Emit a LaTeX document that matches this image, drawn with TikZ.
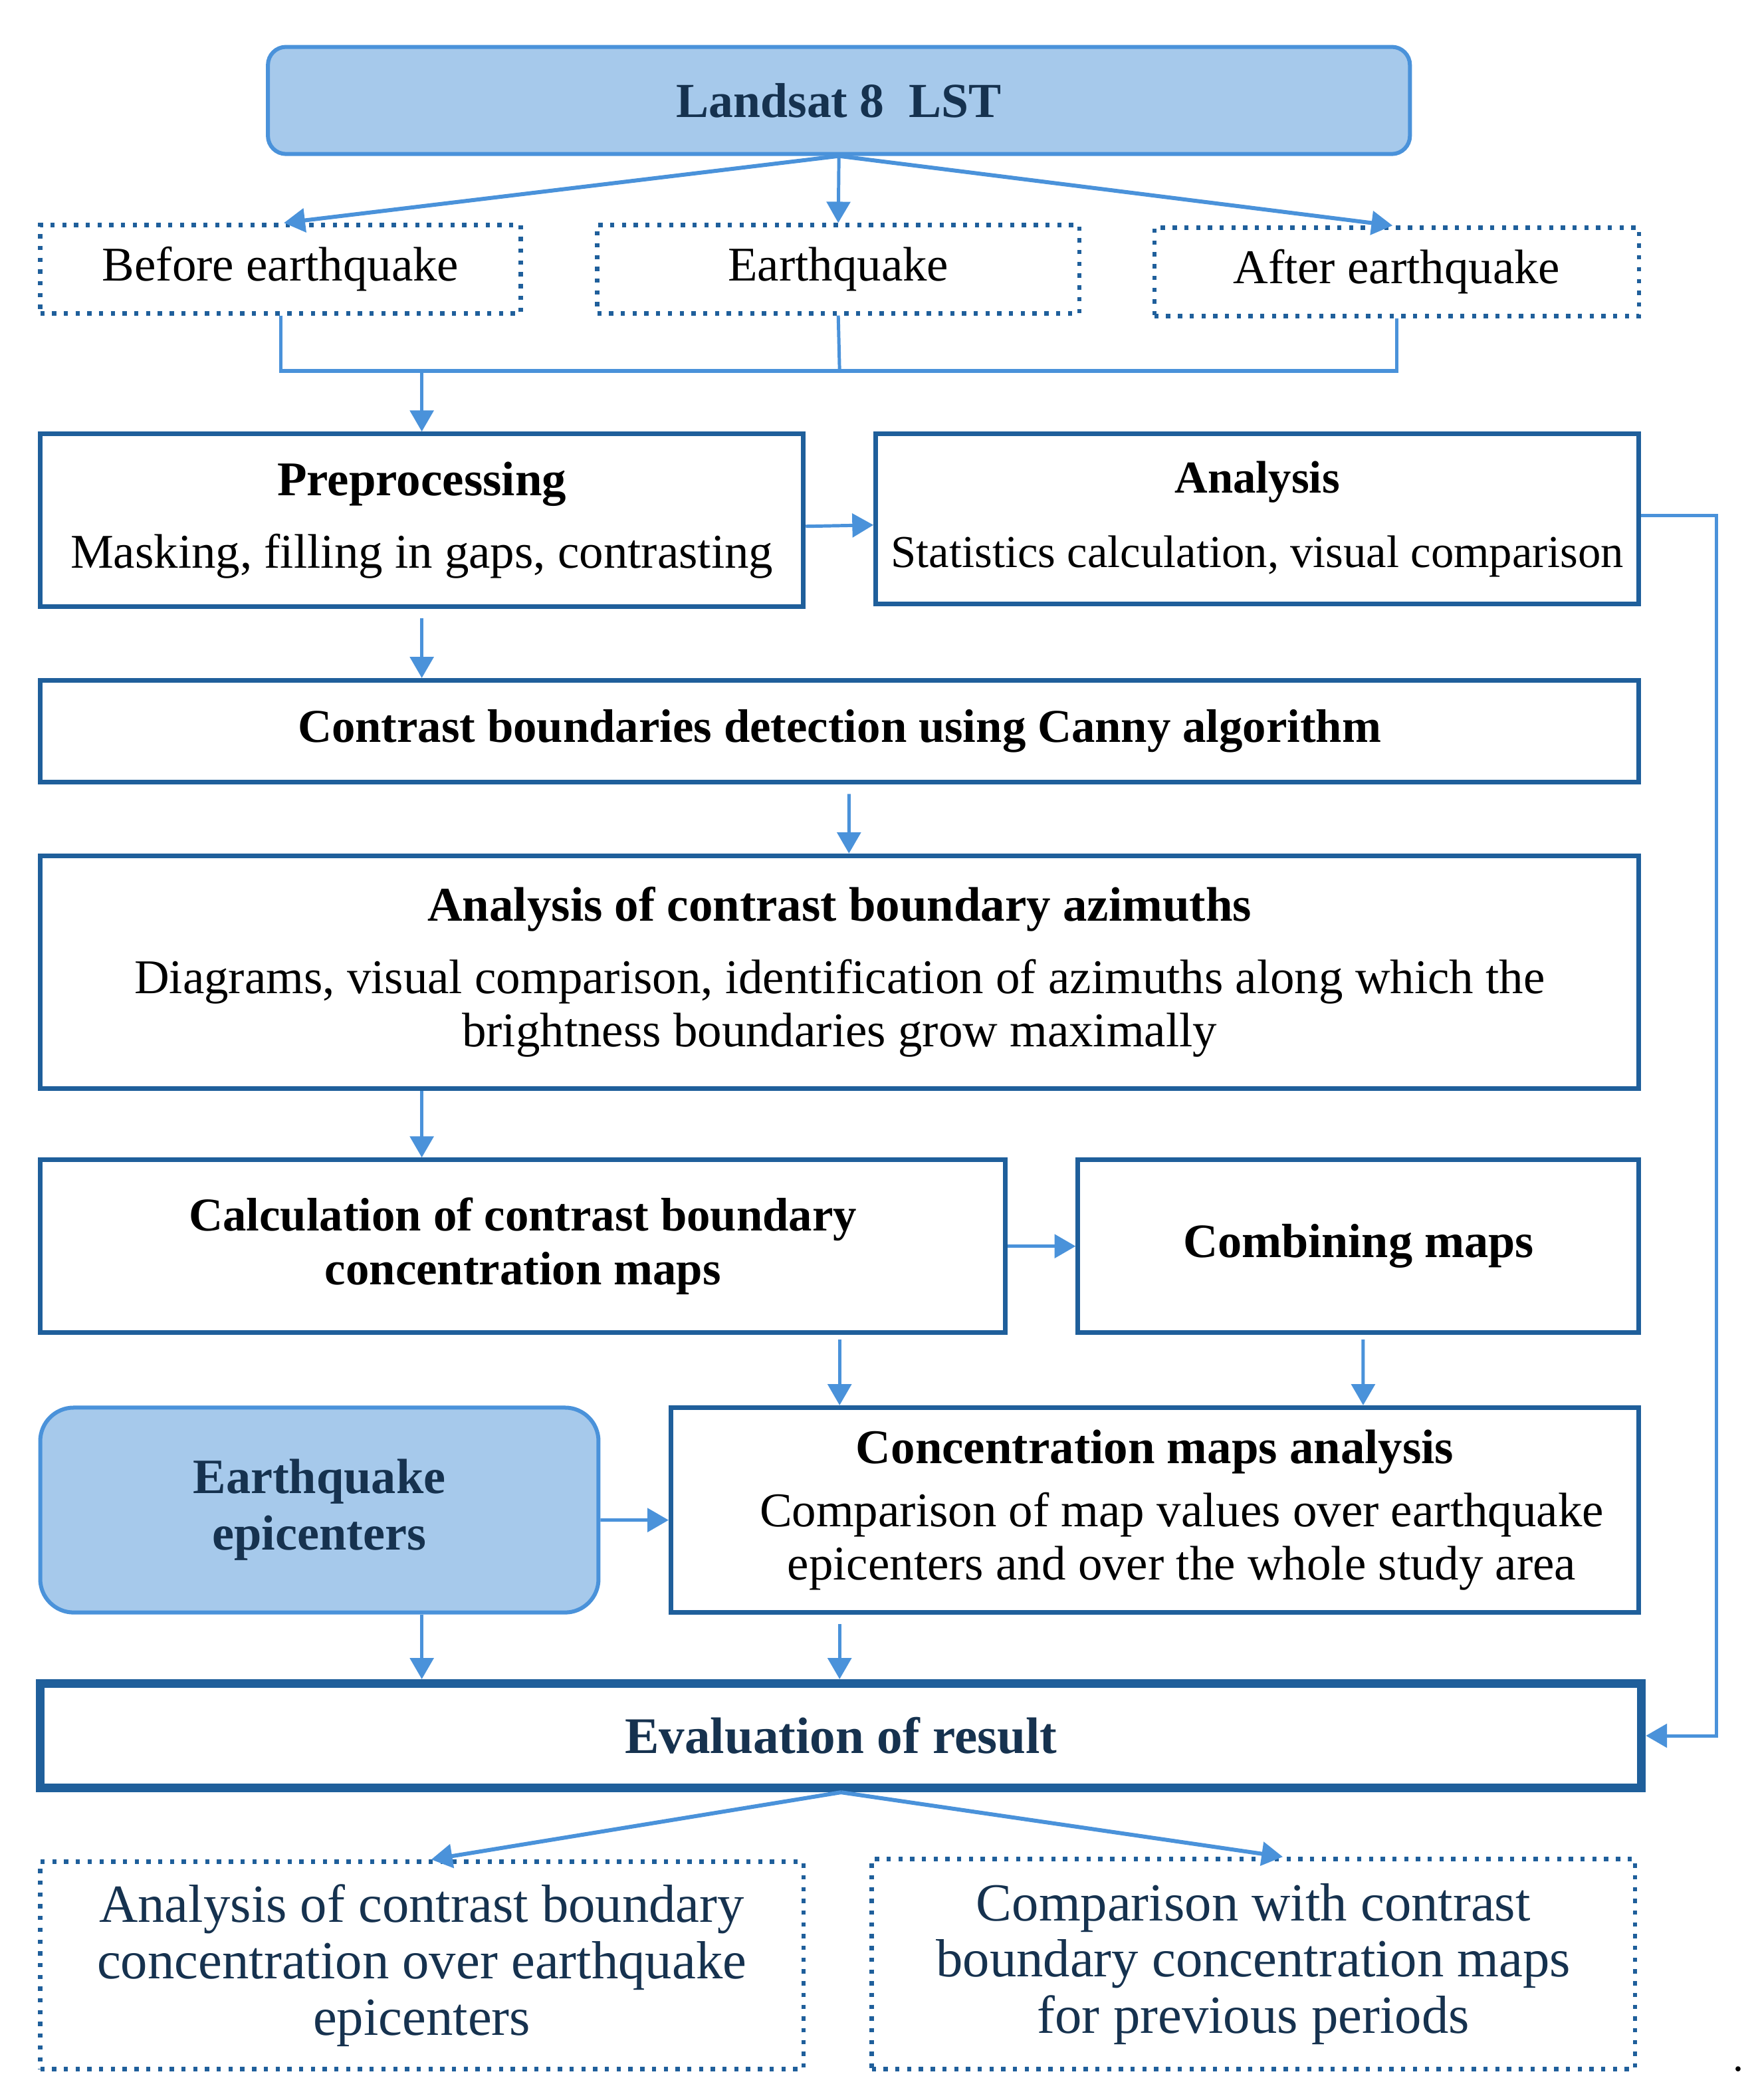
\documentclass[tikz,border=0pt]{standalone}
\usepackage{fontspec}
\setmainfont{Liberation Serif}
\usetikzlibrary{arrows.meta}
\definecolor{boxblue}{RGB}{31,95,155}
\definecolor{arrblue}{RGB}{74,146,218}
\definecolor{fillblue}{RGB}{166,201,235}
\definecolor{navy}{RGB}{22,50,79}
\tikzset{
  box/.style={draw=boxblue, line width=2pt, align=center, inner sep=0pt, font=\fontsize{20.6}{22.7}\selectfont},
  dotbox/.style={box, line width=1.8pt, dash pattern=on 1.8pt off 3.2pt},
  srcbox/.style={box, draw=arrblue, fill=fillblue, line width=1.7pt, text=navy, font=\fontsize{21}{24}\selectfont\bfseries},
  arr/.style={-{Triangle[length=9pt,width=10pt]}, draw=arrblue, line width=1.4pt},
}
\begin{document}
\begin{tikzpicture}[x=0.02cm, y=-0.02cm]
\useasboundingbox (0,0) rectangle (1311,1568);
% sources and periods
\node[srcbox, rounded corners=0.27cm, minimum width=17.06cm, minimum height=1.6cm, font=\fontsize{20.8}{24}\selectfont\bfseries] (land) at (626.5,75) {Landsat 8\ \ LST};
\node[dotbox, minimum width=7.18cm, minimum height=1.32cm] (before) at (209.5,201) {Before earthquake};
\node[dotbox, minimum width=7.2cm, minimum height=1.32cm] (quake) at (626,201) {Earthquake};
\node[dotbox, minimum width=7.24cm, minimum height=1.32cm] (after) at (1043,203) {After earthquake};
% processing chain
\node[box, minimum width=11.4cm, minimum height=2.58cm] (prep) at (315,388.5) {\textbf{Preprocessing}\\[8pt] Masking, filling in gaps, contrasting};
\node[box, minimum width=11.4cm, minimum height=2.54cm, font=\fontsize{19.4}{22.7}\selectfont] (anal) at (939,387.5) {\textbf{Analysis}\\[9pt] Statistics calculation, visual comparison};
\node[box, minimum width=23.88cm, minimum height=1.52cm, font=\fontsize{20}{22.7}\selectfont\bfseries] (canny) at (627,546) {Contrast boundaries detection using Canny algorithm};
\node[box, minimum width=23.88cm, minimum height=3.48cm] (azim) at (627,726) {\textbf{Analysis of contrast boundary azimuths}\\[8pt] Diagrams, visual comparison, identification of azimuths along which the\\ brightness boundaries grow maximally};
\node[box, minimum width=14.42cm, minimum height=2.58cm, font=\fontsize{20}{22.7}\selectfont\bfseries] (calc) at (390.5,930.5) {Calculation of contrast boundary\\ concentration maps};
\node[box, minimum width=8.38cm, minimum height=2.58cm, font=\fontsize{20.4}{22.7}\selectfont\bfseries] (comb) at (1014.5,930.5) {Combining maps};
\node[srcbox, rounded corners=0.5cm, minimum width=8.34cm, minimum height=3.06cm] (epic) at (238.5,1127.5) {Earthquake\\ epicenters};
\node[box, minimum width=14.46cm, minimum height=3.06cm] (conc) at (862.5,1127.5) {\textbf{Concentration maps analysis}\\[4pt] \hspace*{0.8cm}Comparison of map values over earthquake\\ \hspace*{0.8cm}epicenters and over the whole study area};
\node[box, line width=3.7pt, minimum width=23.92cm, minimum height=1.56cm, text=navy, font=\fontsize{21.8}{22.7}\selectfont\bfseries] (eval) at (628,1296) {Evaluation of result};
% outcomes
\node[dotbox, minimum width=11.4cm, minimum height=3.1cm, text=navy, font=\fontsize{22.8}{24}\selectfont] (lout) at (315,1467.5) {Analysis of contrast boundary\\ concentration over earthquake\\ epicenters};
\node[dotbox, minimum width=11.4cm, minimum height=3.14cm, text=navy, font=\fontsize{22.8}{24}\selectfont] (rout) at (936,1466.5) {Comparison with contrast\\ boundary concentration maps\\ for previous periods};
\node[font=\fontsize{18}{20}\selectfont] (stop) at (1298,1545) {.};
% connectors
\coordinate (join) at (627,277);
\draw[arr, line width=1.7pt] (land.south) -- ([xshift=0.05cm]before.north);
\draw[arr] (land.south) -- (quake.north);
\draw[arr, line width=1.7pt] (land.south) -- ([xshift=-0.06cm]after.north);
\draw[arrblue, line width=1.4pt] (before.south) |- (join) -| (after.south);
\draw[arrblue, line width=1.4pt] (quake.south) -- (join);
\draw[arrblue, line width=1.8pt] (before.south |- join) -- (after.south |- join);
\draw[arr] (join -| prep.north) -- (prep.north);
\draw[arr] (prep.east) ++(0,4.5) -- ([yshift=-0.09cm]anal.west);
\draw[arr] (anal.east) ++(0,-2.5) -- ++(56,0) |- (eval.east);
\draw[arr, shorten <=4pt] (prep.south) -- (canny.north -| prep.south);
\draw[arr, shorten <=4pt] (canny.south) ++(7,0) -- ([xshift=0.14cm]azim.north);
\draw[arr] (azim.south -| prep.south) -- (calc.north -| prep.south);
\draw[arr] (calc.east) -- (comb.west);
\draw[arr, shorten <=2pt] (calc.south -| canny.south) -- (conc.north -| canny.south);
\draw[arr, shorten <=2pt] (comb.south) ++(3.5,0) -- ([xshift=0.07cm]conc.north -| comb.south);
\draw[arr] (epic.east) ++(0,7.5) -- ([yshift=-0.15cm]conc.west);
\draw[arr] (epic.south -| prep.south) -- (eval.north -| prep.south);
\draw[arr, shorten <=4pt] (conc.south -| canny.south) -- (eval.north -| canny.south);
\draw[arr, line width=1.7pt] (eval.south) -- ([xshift=0.14cm]lout.north);
\draw[arr, line width=1.7pt] (eval.south) -- ([xshift=0.44cm]rout.north);
\end{tikzpicture}
\end{document}
